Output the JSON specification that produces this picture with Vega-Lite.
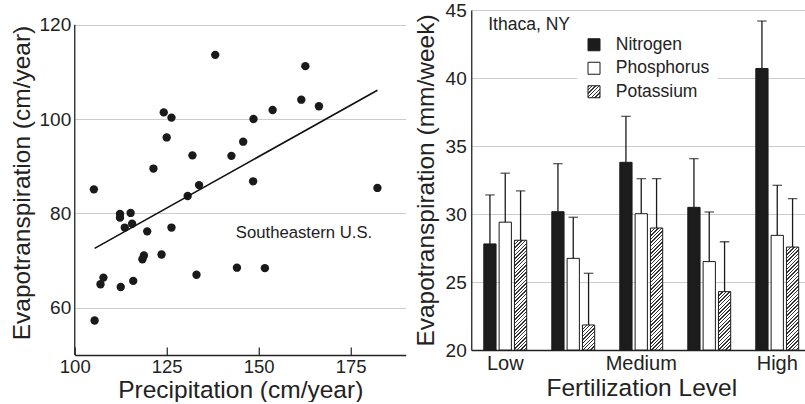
{
  "$schema": "https://vega.github.io/schema/vega-lite/v6.json",
  "padding": {"left": 9.75, "top": 1, "right": 0, "bottom": 0},
  "params": [
    {"name": "hatch", "value": [
      {"offset":0,"color":"#333"},{"offset":0.01,"color":"#333"},{"offset":0.01,"color":"#fff"},{"offset":0.0263,"color":"#fff"},
      {"offset":0.0263,"color":"#333"},{"offset":0.0363,"color":"#333"},{"offset":0.0363,"color":"#fff"},{"offset":0.0526,"color":"#fff"},
      {"offset":0.0526,"color":"#333"},{"offset":0.0626,"color":"#333"},{"offset":0.0626,"color":"#fff"},{"offset":0.0789,"color":"#fff"},
      {"offset":0.0789,"color":"#333"},{"offset":0.0889,"color":"#333"},{"offset":0.0889,"color":"#fff"},{"offset":0.1053,"color":"#fff"},
      {"offset":0.1053,"color":"#333"},{"offset":0.1153,"color":"#333"},{"offset":0.1153,"color":"#fff"},{"offset":0.1316,"color":"#fff"},
      {"offset":0.1316,"color":"#333"},{"offset":0.1416,"color":"#333"},{"offset":0.1416,"color":"#fff"},{"offset":0.1579,"color":"#fff"},
      {"offset":0.1579,"color":"#333"},{"offset":0.1679,"color":"#333"},{"offset":0.1679,"color":"#fff"},{"offset":0.1842,"color":"#fff"},
      {"offset":0.1842,"color":"#333"},{"offset":0.1942,"color":"#333"},{"offset":0.1942,"color":"#fff"},{"offset":0.2105,"color":"#fff"},
      {"offset":0.2105,"color":"#333"},{"offset":0.2205,"color":"#333"},{"offset":0.2205,"color":"#fff"},{"offset":0.2368,"color":"#fff"},
      {"offset":0.2368,"color":"#333"},{"offset":0.2468,"color":"#333"},{"offset":0.2468,"color":"#fff"},{"offset":0.2632,"color":"#fff"},
      {"offset":0.2632,"color":"#333"},{"offset":0.2732,"color":"#333"},{"offset":0.2732,"color":"#fff"},{"offset":0.2895,"color":"#fff"},
      {"offset":0.2895,"color":"#333"},{"offset":0.2995,"color":"#333"},{"offset":0.2995,"color":"#fff"},{"offset":0.3158,"color":"#fff"},
      {"offset":0.3158,"color":"#333"},{"offset":0.3258,"color":"#333"},{"offset":0.3258,"color":"#fff"},{"offset":0.3421,"color":"#fff"},
      {"offset":0.3421,"color":"#333"},{"offset":0.3521,"color":"#333"},{"offset":0.3521,"color":"#fff"},{"offset":0.3684,"color":"#fff"},
      {"offset":0.3684,"color":"#333"},{"offset":0.3784,"color":"#333"},{"offset":0.3784,"color":"#fff"},{"offset":0.3947,"color":"#fff"},
      {"offset":0.3947,"color":"#333"},{"offset":0.4047,"color":"#333"},{"offset":0.4047,"color":"#fff"},{"offset":0.4211,"color":"#fff"},
      {"offset":0.4211,"color":"#333"},{"offset":0.4311,"color":"#333"},{"offset":0.4311,"color":"#fff"},{"offset":0.4474,"color":"#fff"},
      {"offset":0.4474,"color":"#333"},{"offset":0.4574,"color":"#333"},{"offset":0.4574,"color":"#fff"},{"offset":0.4737,"color":"#fff"},
      {"offset":0.4737,"color":"#333"},{"offset":0.4837,"color":"#333"},{"offset":0.4837,"color":"#fff"},{"offset":0.5,"color":"#fff"},
      {"offset":0.5,"color":"#333"},{"offset":0.51,"color":"#333"},{"offset":0.51,"color":"#fff"},{"offset":0.5263,"color":"#fff"},
      {"offset":0.5263,"color":"#333"},{"offset":0.5363,"color":"#333"},{"offset":0.5363,"color":"#fff"},{"offset":0.5526,"color":"#fff"},
      {"offset":0.5526,"color":"#333"},{"offset":0.5626,"color":"#333"},{"offset":0.5626,"color":"#fff"},{"offset":0.5789,"color":"#fff"},
      {"offset":0.5789,"color":"#333"},{"offset":0.5889,"color":"#333"},{"offset":0.5889,"color":"#fff"},{"offset":0.6053,"color":"#fff"},
      {"offset":0.6053,"color":"#333"},{"offset":0.6153,"color":"#333"},{"offset":0.6153,"color":"#fff"},{"offset":0.6316,"color":"#fff"},
      {"offset":0.6316,"color":"#333"},{"offset":0.6416,"color":"#333"},{"offset":0.6416,"color":"#fff"},{"offset":0.6579,"color":"#fff"},
      {"offset":0.6579,"color":"#333"},{"offset":0.6679,"color":"#333"},{"offset":0.6679,"color":"#fff"},{"offset":0.6842,"color":"#fff"},
      {"offset":0.6842,"color":"#333"},{"offset":0.6942,"color":"#333"},{"offset":0.6942,"color":"#fff"},{"offset":0.7105,"color":"#fff"},
      {"offset":0.7105,"color":"#333"},{"offset":0.7205,"color":"#333"},{"offset":0.7205,"color":"#fff"},{"offset":0.7368,"color":"#fff"},
      {"offset":0.7368,"color":"#333"},{"offset":0.7468,"color":"#333"},{"offset":0.7468,"color":"#fff"},{"offset":0.7632,"color":"#fff"},
      {"offset":0.7632,"color":"#333"},{"offset":0.7732,"color":"#333"},{"offset":0.7732,"color":"#fff"},{"offset":0.7895,"color":"#fff"},
      {"offset":0.7895,"color":"#333"},{"offset":0.7995,"color":"#333"},{"offset":0.7995,"color":"#fff"},{"offset":0.8158,"color":"#fff"},
      {"offset":0.8158,"color":"#333"},{"offset":0.8258,"color":"#333"},{"offset":0.8258,"color":"#fff"},{"offset":0.8421,"color":"#fff"},
      {"offset":0.8421,"color":"#333"},{"offset":0.8521,"color":"#333"},{"offset":0.8521,"color":"#fff"},{"offset":0.8684,"color":"#fff"},
      {"offset":0.8684,"color":"#333"},{"offset":0.8784,"color":"#333"},{"offset":0.8784,"color":"#fff"},{"offset":0.8947,"color":"#fff"},
      {"offset":0.8947,"color":"#333"},{"offset":0.9047,"color":"#333"},{"offset":0.9047,"color":"#fff"},{"offset":0.9211,"color":"#fff"},
      {"offset":0.9211,"color":"#333"},{"offset":0.9311,"color":"#333"},{"offset":0.9311,"color":"#fff"},{"offset":0.9474,"color":"#fff"},
      {"offset":0.9474,"color":"#333"},{"offset":0.9574,"color":"#333"},{"offset":0.9574,"color":"#fff"},{"offset":0.9737,"color":"#fff"},
      {"offset":0.9737,"color":"#333"},{"offset":0.9837,"color":"#333"},{"offset":0.9837,"color":"#fff"},{"offset":1,"color":"#fff"}
    ]}
  ],
  "config": {
    "font": "Liberation Sans",
    "view": {"stroke": null},
    "axis": {
      "labelColor": "#222", "titleColor": "#222", "domainColor": "#222", "tickColor": "#222",
      "titleFontWeight": "normal", "gridColor": "#cccccc", "gridWidth": 1, "domainWidth": 1.3
    }
  },
  "datasets": {
    "points": [
      {"precip": 105.2, "et": 85.1}, {"precip": 105.4, "et": 57.3}, {"precip": 107.0, "et": 65.0},
      {"precip": 107.8, "et": 66.4}, {"precip": 112.3, "et": 79.9}, {"precip": 112.3, "et": 79.1},
      {"precip": 112.5, "et": 64.4}, {"precip": 113.6, "et": 77.0}, {"precip": 115.2, "et": 80.1},
      {"precip": 115.6, "et": 77.8}, {"precip": 115.9, "et": 65.7}, {"precip": 118.4, "et": 70.3},
      {"precip": 118.8, "et": 71.1}, {"precip": 119.7, "et": 76.2}, {"precip": 121.4, "et": 89.5},
      {"precip": 123.6, "et": 71.3}, {"precip": 124.2, "et": 101.4}, {"precip": 125.0, "et": 96.1},
      {"precip": 126.3, "et": 100.3}, {"precip": 126.3, "et": 77.0}, {"precip": 130.7, "et": 83.7},
      {"precip": 132.0, "et": 92.3}, {"precip": 133.1, "et": 67.0}, {"precip": 133.8, "et": 86.0},
      {"precip": 138.2, "et": 113.6}, {"precip": 142.6, "et": 92.2}, {"precip": 144.1, "et": 68.5},
      {"precip": 145.8, "et": 95.2}, {"precip": 148.5, "et": 86.8}, {"precip": 148.6, "et": 100.0},
      {"precip": 151.7, "et": 68.4}, {"precip": 153.8, "et": 101.9}, {"precip": 161.6, "et": 104.1},
      {"precip": 162.7, "et": 111.2}, {"precip": 166.4, "et": 102.7}, {"precip": 182.3, "et": 85.4}
    ],
    "fit": [{"precip": 105.4, "et": 72.6}, {"precip": 182.3, "et": 106.1}],
    "bars": [
      {"level": "Low", "nutrient": "Nitrogen", "value": 27.8, "upper": 31.4},
      {"level": "Low", "nutrient": "Phosphorus", "value": 29.4, "upper": 33.0},
      {"level": "Low", "nutrient": "Potassium", "value": 28.07, "upper": 31.7},
      {"level": "Low-Medium", "nutrient": "Nitrogen", "value": 30.17, "upper": 33.7},
      {"level": "Low-Medium", "nutrient": "Phosphorus", "value": 26.74, "upper": 29.76},
      {"level": "Low-Medium", "nutrient": "Potassium", "value": 21.84, "upper": 25.64},
      {"level": "Medium", "nutrient": "Nitrogen", "value": 33.8, "upper": 37.18},
      {"level": "Medium", "nutrient": "Phosphorus", "value": 30.02, "upper": 32.6},
      {"level": "Medium", "nutrient": "Potassium", "value": 28.97, "upper": 32.6},
      {"level": "Medium-High", "nutrient": "Nitrogen", "value": 30.49, "upper": 34.07},
      {"level": "Medium-High", "nutrient": "Phosphorus", "value": 26.5, "upper": 30.15},
      {"level": "Medium-High", "nutrient": "Potassium", "value": 24.29, "upper": 27.96},
      {"level": "High", "nutrient": "Nitrogen", "value": 40.7, "upper": 44.19},
      {"level": "High", "nutrient": "Phosphorus", "value": 28.43, "upper": 32.11},
      {"level": "High", "nutrient": "Potassium", "value": 27.57, "upper": 31.13}
    ]
  },
  "spacing": 7.5,
  "resolve": {"legend": {"fill": "independent"}},
  "hconcat": [
    {
      "width": 331,
      "height": 345,
      "layer": [
        {
          "data": {"name": "points"},
          "mark": {"type": "circle", "size": 70, "color": "#1a1a1a", "opacity": 1},
          "encoding": {
            "x": {"field": "precip", "type": "quantitative",
              "scale": {"domain": [100, 190], "nice": false, "zero": false},
              "axis": {"title": "Precipitation (cm/year)", "values": [100, 125, 150, 175], "grid": false, "labelFlush": false,
                "tickSize": -8, "tickWidth": 1.2, "labelFontSize": 18.5, "titleFontSize": 24.5, "labelPadding": 10, "titlePadding": 3}},
            "y": {"field": "et", "type": "quantitative",
              "scale": {"domain": [50, 123.1], "nice": false, "zero": false},
              "axis": {"title": "Evapotranspiration (cm/year)", "values": [60, 80, 100, 120], "grid": true, "domain": false,
                "ticks": false, "labelFontSize": 19, "titleFontSize": 24.5, "labelPadding": 4, "titlePadding": 4.25}}
          }
        },
        {
          "data": {"values": [{}]},
          "mark": {"type": "rule", "color": "#222", "strokeWidth": 1.3},
          "encoding": {
            "x": {"datum": 100, "type": "quantitative"},
            "y": {"datum": 50, "type": "quantitative"},
            "y2": {"datum": 120}
          }
        },
        {
          "data": {"name": "fit"},
          "mark": {"type": "line", "color": "#111", "strokeWidth": 1.6},
          "encoding": {
            "x": {"field": "precip", "type": "quantitative"},
            "y": {"field": "et", "type": "quantitative"}
          }
        },
        {
          "data": {"values": [{}]},
          "mark": {"type": "text", "text": "Southeastern U.S.", "align": "left", "baseline": "middle", "fontSize": 16.7, "color": "#222"},
          "encoding": {
            "x": {"datum": 143.8, "type": "quantitative"},
            "y": {"datum": 75.8, "type": "quantitative"}
          }
        }
      ]
    },
    {
      "width": 340,
      "height": 340,
      "layer": [
        {
          "data": {"name": "bars"},
          "mark": {"type": "bar", "stroke": "#1a1a1a", "strokeWidth": 1},
          "encoding": {
            "x": {"field": "level", "type": "nominal", "sort": ["Low", "Low-Medium", "Medium", "Medium-High", "High"],
              "scale": {"paddingInner": 0, "paddingOuter": 0},
              "axis": {"title": "Fertilization Level", "labelAngle": 0, "ticks": false,
                "labelExpr": "indexof(['Low','Medium','High'], datum.label) >= 0 ? datum.label : ''",
                "labelFontSize": 20, "titleFontSize": 24.5, "labelPadding": 3, "titlePadding": 3}},
            "xOffset": {"field": "nutrient", "type": "nominal", "sort": ["Nitrogen", "Phosphorus", "Potassium"],
              "scale": {"paddingInner": 0.2, "paddingOuter": 0.82}},
            "y": {"field": "value", "type": "quantitative",
              "scale": {"domain": [20, 45], "nice": false, "zero": false},
              "axis": {"title": "Evapotranspiration (mm/week)", "values": [20, 25, 30, 35, 40, 45], "grid": true,
                "ticks": false, "labelFontSize": 19, "titleFontSize": 24.5, "labelPadding": 5, "titlePadding": 6.6}},
            "y2": {"datum": 20},
            "fill": {"field": "nutrient", "type": "nominal",
              "scale": {"domain": ["Nitrogen", "Phosphorus", "Potassium"],
                "range": ["#1c1c1c", "#ffffff", {"expr": "{gradient: 'linear', x1: 0, y1: 0, x2: 5.7, y2: 5.7, stops: hatch}"}]},
              "legend": {"title": null, "orient": "none", "legendX": 106, "legendY": 18, "symbolType": "square",
                "symbolSize": 144, "symbolStrokeColor": "#1a1a1a", "symbolStrokeWidth": 1, "symbolOpacity": 1,
                "labelFontSize": 17.5, "labelColor": "#222", "labelOffset": 13, "rowPadding": 4.5,
                "padding": 8, "fillColor": "white"},
              "condition": [
                {"test": "datum.nutrient === 'Potassium' && datum.level === 'Low'", "value": {"expr": "{gradient: 'linear', x1: 0, y1: 0, x2: 0.1374, y2: 1.2311, stops: hatch}"}},
                {"test": "datum.nutrient === 'Potassium' && datum.level === 'Low-Medium'", "value": {"expr": "{gradient: 'linear', x1: 0, y1: 0, x2: 2.1593, y2: 4.4101, stops: hatch}"}},
                {"test": "datum.nutrient === 'Potassium' && datum.level === 'Medium'", "value": {"expr": "{gradient: 'linear', x1: 0, y1: 0, x2: 0.1115, y2: 1.1102, stops: hatch}"}},
                {"test": "datum.nutrient === 'Potassium' && datum.level === 'Medium-High'", "value": {"expr": "{gradient: 'linear', x1: 0, y1: 0, x2: 0.4716, y2: 2.2458, stops: hatch}"}},
                {"test": "datum.nutrient === 'Potassium' && datum.level === 'High'", "value": {"expr": "{gradient: 'linear', x1: 0, y1: 0, x2: 0.1559, y2: 1.3102, stops: hatch}"}}
              ]
            }
          }
        },
        {
          "data": {"name": "bars"},
          "mark": {"type": "rule", "color": "#1a1a1a", "strokeWidth": 1.3},
          "encoding": {
            "x": {"field": "level", "type": "nominal", "sort": ["Low", "Low-Medium", "Medium", "Medium-High", "High"]},
            "xOffset": {"field": "nutrient", "type": "nominal", "sort": ["Nitrogen", "Phosphorus", "Potassium"]},
            "y": {"field": "value", "type": "quantitative"},
            "y2": {"field": "upper"}
          }
        },
        {
          "data": {"name": "bars"},
          "mark": {"type": "tick", "color": "#1a1a1a", "thickness": 1.3, "size": 9.5, "orient": "horizontal"},
          "encoding": {
            "x": {"field": "level", "type": "nominal", "sort": ["Low", "Low-Medium", "Medium", "Medium-High", "High"]},
            "xOffset": {"field": "nutrient", "type": "nominal", "sort": ["Nitrogen", "Phosphorus", "Potassium"]},
            "y": {"field": "upper", "type": "quantitative"}
          }
        },
        {
          "data": {"values": [{}]},
          "mark": {"type": "text", "text": "Ithaca, NY", "align": "left", "baseline": "middle", "fontSize": 17.5, "dx": -17, "color": "#222"},
          "encoding": {
            "x": {"datum": "Low", "type": "nominal"},
            "y": {"datum": 43.9, "type": "quantitative"}
          }
        }
      ]
    }
  ]
}
